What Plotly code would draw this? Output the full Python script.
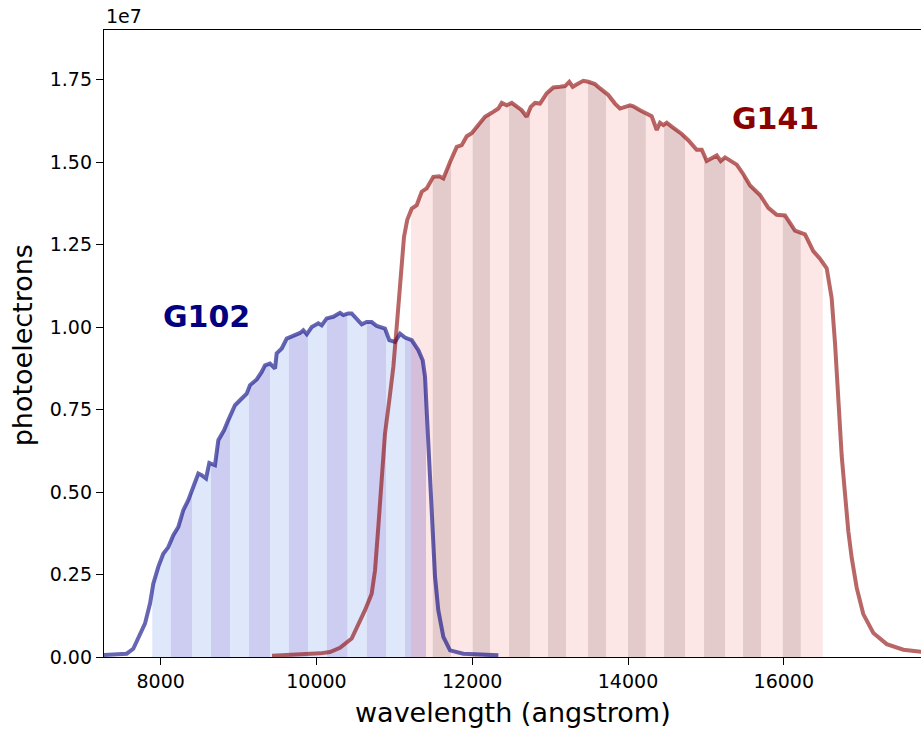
import numpy as np
import plotly.graph_objects as go

# ---------------- data (photoelectrons in units of 1e7) ----------------
G102_WAVE = [7200, 7563, 7648, 7734, 7798, 7863, 7905, 7969, 8033, 8098, 8162, 8226, 8290, 8354,
             8419, 8483, 8526, 8582, 8624, 8697, 8740, 8813, 8868, 8954, 9018, 9104, 9147, 9233,
             9297, 9339, 9403, 9468, 9489, 9554, 9618, 9682, 9789, 9831, 9875, 9939, 10024, 10067,
             10131, 10216, 10302, 10345, 10409, 10452, 10517, 10581, 10645, 10709, 10774, 10880,
             10935, 11008, 11073, 11137, 11223, 11308, 11364, 11394, 11415, 11436, 11458, 11480,
             11522, 11564, 11629, 11715, 11885, 12335]
G102_FLUX = [0.005, 0.010, 0.025, 0.071, 0.101, 0.162, 0.222, 0.273, 0.313, 0.333, 0.369, 0.394,
             0.445, 0.475, 0.515, 0.556, 0.551, 0.541, 0.588, 0.581, 0.657, 0.687, 0.718, 0.763,
             0.778, 0.798, 0.824, 0.841, 0.864, 0.884, 0.889, 0.874, 0.920, 0.935, 0.965, 0.972,
             0.982, 0.990, 0.978, 1.000, 1.011, 1.005, 1.026, 1.031, 1.043, 1.036, 1.041, 1.041,
             1.023, 1.008, 1.015, 1.015, 1.003, 0.995, 0.960, 0.955, 0.980, 0.968, 0.960, 0.930,
             0.899, 0.849, 0.748, 0.647, 0.495, 0.394, 0.243, 0.142, 0.061, 0.020, 0.010, 0.005]

G141_WAVE = [9429, 9789, 10045, 10174, 10302, 10452, 10537, 10623, 10709, 10752, 10794, 10838,
             10880, 10935, 10987, 11030, 11064, 11094, 11124, 11165, 11223, 11287, 11351, 11415,
             11500, 11577, 11629, 11715, 11801, 11865, 11929, 11993, 12078, 12164, 12250, 12335,
             12379, 12443, 12507, 12571, 12635, 12699, 12751, 12806, 12870, 12956, 13041, 13127,
             13191, 13246, 13290, 13362, 13426, 13490, 13576, 13641, 13747, 13833, 13897, 14026,
             14068, 14154, 14240, 14304, 14369, 14411, 14453, 14497, 14561, 14625, 14690, 14774,
             14882, 14947, 15011, 15139, 15190, 15246, 15396, 15481, 15567, 15695, 15802, 15909,
             16016, 16144, 16273, 16379, 16465, 16551, 16615, 16658, 16700, 16744, 16786, 16829,
             16872, 16936, 17021, 17150, 17322, 17535, 17762, 17900]
G141_FLUX = [0.004, 0.007, 0.011, 0.015, 0.028, 0.056, 0.096, 0.142, 0.192, 0.263, 0.394, 0.546,
             0.677, 0.778, 0.879, 1.000, 1.102, 1.202, 1.273, 1.324, 1.359, 1.369, 1.410, 1.420,
             1.455, 1.457, 1.450, 1.500, 1.546, 1.551, 1.578, 1.587, 1.612, 1.637, 1.649, 1.662,
             1.679, 1.672, 1.679, 1.669, 1.657, 1.637, 1.667, 1.679, 1.677, 1.708, 1.726, 1.728,
             1.730, 1.743, 1.728, 1.738, 1.746, 1.743, 1.736, 1.723, 1.703, 1.677, 1.662, 1.672,
             1.669, 1.657, 1.645, 1.639, 1.597, 1.619, 1.612, 1.619, 1.607, 1.597, 1.585, 1.566,
             1.537, 1.537, 1.503, 1.520, 1.503, 1.514, 1.492, 1.463, 1.429, 1.400, 1.361, 1.340,
             1.338, 1.292, 1.281, 1.230, 1.207, 1.178, 1.087, 0.951, 0.780, 0.609, 0.495, 0.381,
             0.301, 0.210, 0.130, 0.073, 0.039, 0.022, 0.016, 0.013]

# spectral bin edges (angstrom)
G102_EDGES = [7892, 8132, 8402, 8646, 8890, 9134, 9404, 9647, 9891, 10135, 10401, 10645, 10893,
              11137, 11406]
G141_EDGES = [11214, 11493, 11728, 12006, 12228, 12472, 12742, 12973, 13204, 13487, 13718, 14000,
              14228, 14463, 14732, 14976, 15246, 15477, 15708, 15987, 16218, 16500]

X_TICKS = [8000, 10000, 12000, 14000, 16000]
X_TICK_TEXT = ["8000", "10000", "12000", "14000", "16000"]
Y_TICKS = [0.0, 0.25, 0.5, 0.75, 1.0, 1.25, 1.5, 1.75]
Y_TICK_TEXT = ["0.00", "0.25", "0.50", "0.75", "1.00", "1.25", "1.50", "1.75"]

FONT = "DejaVu Sans"

fig = go.Figure()


def add_bands(edges, wave, flux, colors):
    wave = np.asarray(wave, float)
    flux = np.asarray(flux, float)
    for i in range(len(edges) - 1):
        a, b = edges[i], edges[i + 1]
        m = (wave > a) & (wave < b)
        xs = [a, a] + list(wave[m]) + [b, b]
        ys = [0, float(np.interp(a, wave, flux))] + list(flux[m]) + [float(np.interp(b, wave, flux)), 0]
        fig.add_trace(go.Scatter(x=xs, y=ys, mode="none", fill="toself",
                                 fillcolor=colors[i % 2], hoverinfo="skip",
                                 showlegend=False))


add_bands(G102_EDGES, G102_WAVE, G102_FLUX, ["rgb(223,231,251)", "rgb(205,205,241)"])
add_bands(G141_EDGES, G141_WAVE, G141_FLUX, ["rgba(240,128,128,0.2)", "rgba(162,82,85,0.3)"])

fig.add_trace(go.Scatter(x=G102_WAVE, y=G102_FLUX, mode="lines",
                         line=dict(color="rgba(0,0,128,0.6)", width=4), showlegend=False))
fig.add_trace(go.Scatter(x=G141_WAVE, y=G141_FLUX, mode="lines",
                         line=dict(color="rgba(139,0,0,0.6)", width=4), showlegend=False))

fig.add_annotation(x=8582, y=1.033, text="<b>G102</b>", showarrow=False,
                   font=dict(family=FONT, size=30, color="#000080"))
fig.add_annotation(x=15888, y=1.633, text="<b>G141</b>", showarrow=False,
                   font=dict(family=FONT, size=30, color="#8b0000"))

fig.add_annotation(xref="paper", yref="paper", x=0, y=1, xanchor="left", yanchor="bottom",
                   yshift=1, text="1e7", showarrow=False, font=dict(family=FONT, size=19, color="black"))
fig.add_annotation(xref="paper", yref="paper", x=0.5006, y=-0.0882, xanchor="center",
                   yanchor="middle", text="wavelength (angstrom)", showarrow=False,
                   font=dict(family=FONT, size=27, color="black"))
fig.add_annotation(xref="paper", yref="paper", x=-0.1004, y=0.497, xanchor="center",
                   yanchor="middle", textangle=-90, text="photoelectrons", showarrow=False,
                   font=dict(family=FONT, size=27, color="black"))

fig.update_layout(
    width=921, height=731,
    margin=dict(l=104, r=0, t=30, b=74),
    plot_bgcolor="white", paper_bgcolor="white",
    showlegend=False,
    font=dict(family=FONT, size=19, color="black"),
)
fig.update_xaxes(range=[7272, 17762], tickvals=X_TICKS, ticktext=X_TICK_TEXT, ticks="outside",
                 ticklen=7, tickwidth=1.3, tickcolor="black", showline=True, linecolor="black",
                 linewidth=1.3, mirror=True, showgrid=False, zeroline=False,
                 tickfont=dict(family=FONT, size=19, color="black"))
fig.update_yaxes(range=[0, 1.9], tickvals=Y_TICKS, ticktext=Y_TICK_TEXT, ticks="outside",
                 ticklen=7, tickwidth=1.3, tickcolor="black", showline=True,
                 linecolor="black", linewidth=1.3, mirror=False, showgrid=False,
                 zeroline=False, tickfont=dict(family=FONT, size=19, color="black"))

fig.write_html("out.html")
